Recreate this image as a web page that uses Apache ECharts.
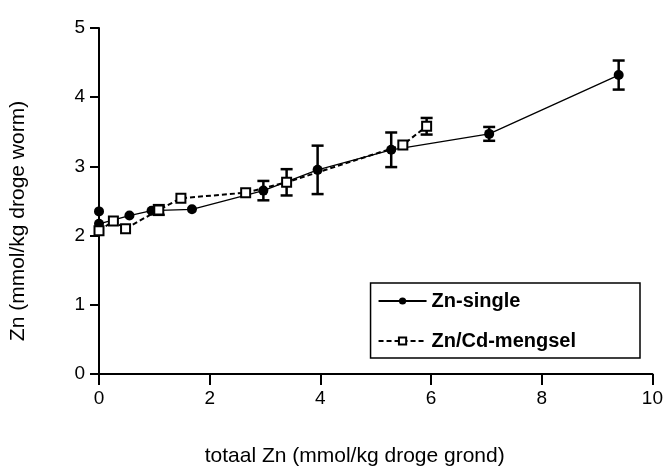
<!DOCTYPE html>
<html>
<head>
<meta charset="utf-8">
<script src="https://cdn.jsdelivr.net/npm/echarts@6/dist/echarts.min.js"></script>
<style>
  html, body { margin: 0; padding: 0; background: #fff; }
  #chart { width: 666px; height: 472px; }
</style>
</head>
<body>
<div id="chart"></div>
<script>
// Zn in worms vs total Zn in soil
const singleX   = [0, 0, 0.55, 0.95, 1.68, 2.97, 3.95, 5.28, 7.05, 9.39];
const singleY   = [2.35, 2.17, 2.29, 2.36, 2.38, 2.65, 2.95, 3.24, 3.47, 4.32];
const singleErr = [0, 0, 0, 0, 0, 0.14, 0.35, 0.25, 0.10, 0.21];

const mixX   = [0, 0.26, 0.48, 1.08, 1.48, 2.65, 3.39, 5.49, 5.92];
const mixY   = [2.07, 2.21, 2.10, 2.37, 2.54, 2.62, 2.77, 3.31, 3.58];
const mixErr = [0, 0, 0, 0.07, 0, 0, 0.19, 0, 0.12];

const xTicks = [0, 2, 4, 6, 8, 10];
const yTicks = [0, 1, 2, 3, 4, 5];

const FONT = "'Liberation Sans', Arial, sans-serif";

function pairs(xs, ys) { return xs.map((x, i) => [x, ys[i]]); }
function errRows(xs, ys, es) {
  return xs.map((x, i) => [x, ys[i] - es[i], ys[i] + es[i]]).filter((r, i) => es[i] > 0);
}

// vertical error bar with caps
function errorBar(params, api) {
  const x = api.value(0);
  const lo = api.coord([x, api.value(1)]);
  const hi = api.coord([x, api.value(2)]);
  const half = 6;
  const style = { stroke: '#000', lineWidth: 2.5 };
  return {
    type: 'group',
    children: [
      { type: 'line', shape: { x1: lo[0], y1: lo[1], x2: hi[0], y2: hi[1] }, style },
      { type: 'line', shape: { x1: lo[0] - half, y1: lo[1], x2: lo[0] + half, y2: lo[1] }, style },
      { type: 'line', shape: { x1: hi[0] - half, y1: hi[1], x2: hi[0] + half, y2: hi[1] }, style }
    ]
  };
}

const chart = echarts.init(document.getElementById('chart'), null, { renderer: 'canvas' });
chart.setOption({
  animation: false,
  backgroundColor: '#fff',
  textStyle: { fontFamily: FONT, color: '#000' },
  grid: { left: 98, right: 13, top: 28, bottom: 82 },
  legend: {
    right: 26, top: 283,
    orient: 'vertical',
    data: ['Zn-single', 'Zn/Cd-mengsel'],
    itemWidth: 48, itemHeight: 9, itemGap: 20,
    padding: [8, 64, 7, 7],
    borderColor: '#000', borderWidth: 1.5,
    textStyle: { fontFamily: FONT, fontSize: 20, fontWeight: 'bold', color: '#000' }
  },
  xAxis: {
    type: 'value', min: xTicks[0], max: xTicks[xTicks.length - 1], interval: 2,
    name: 'totaal Zn (mmol/kg droge grond)', nameLocation: 'middle', nameGap: 72,
    nameTextStyle: { fontFamily: FONT, fontSize: 21, color: '#000', padding: [0, 42, 0, 0] },
    axisLine: { onZero: false, lineStyle: { color: '#000', width: 2 } },
    axisTick: { inside: false, length: 11, lineStyle: { color: '#000', width: 2 } },
    axisLabel: { fontFamily: FONT, fontSize: 19, color: '#000', margin: 15 },
    splitLine: { show: false }
  },
  yAxis: {
    type: 'value', min: yTicks[0], max: yTicks[yTicks.length - 1], interval: 1,
    name: 'Zn (mmol/kg droge worm)', nameLocation: 'middle', nameGap: 70, nameRotate: 90,
    nameTextStyle: { fontFamily: FONT, fontSize: 21, color: '#000', padding: [0, 40, 0, 0] },
    axisLine: { onZero: false, lineStyle: { color: '#000', width: 2 } },
    axisTick: { inside: false, length: 9, lineStyle: { color: '#000', width: 2 } },
    axisLabel: { fontFamily: FONT, fontSize: 19, color: '#000', margin: 14 },
    splitLine: { show: false }
  },
  series: [
    {
      type: 'custom', name: 'single-err', renderItem: errorBar,
      data: errRows(singleX, singleY, singleErr), z: 3, silent: true
    },
    {
      type: 'custom', name: 'mix-err', renderItem: errorBar,
      data: errRows(mixX, mixY, mixErr), z: 3, silent: true
    },
    {
      type: 'line', name: 'Zn-single', data: pairs(singleX, singleY),
      symbol: 'circle', symbolSize: 10,
      itemStyle: { color: '#000' },
      lineStyle: { color: '#000', width: 1.3 },
      z: 4
    },
    {
      type: 'line', name: 'Zn/Cd-mengsel', data: pairs(mixX, mixY),
      symbol: 'rect', symbolSize: 9,
      itemStyle: { color: '#fff', borderColor: '#000', borderWidth: 2 },
      lineStyle: { color: '#000', width: 2, type: [5, 3] },
      z: 5
    }
  ]
});
</script>
</body>
</html>
